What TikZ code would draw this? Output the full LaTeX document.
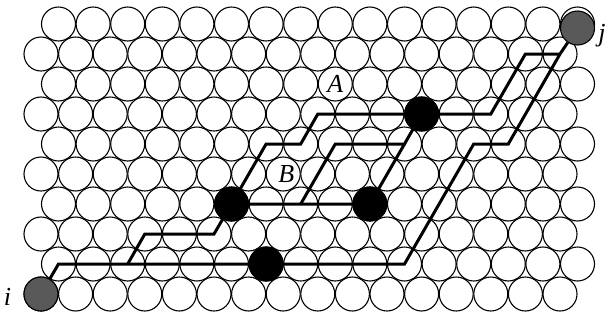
\documentclass[tikz,border=0pt]{standalone}
\usepackage{fontspec}
\setmainfont{Liberation Serif}
\usepackage{tikz}
\usetikzlibrary{positioning}

\begin{document}
\begin{tikzpicture}[x=1pt, y=-1pt]
        \tikzstyle{ball} = [circle, draw, fill=white, minimum size=34pt, inner sep=0pt, line width=1.1pt]
        \tikzstyle{site} = [ball, fill=black!65]
        \tikzstyle{blocked} = [ball, fill=black]
        \tikzstyle{route} = [draw, line width=3pt]
        \tikzstyle{tag} = [font=\fontsize{26}{26}\selectfont\itshape, inner sep=0pt]
        \useasboundingbox (0,0) rectangle (609,322);

        % Packing
        \foreach \r in {1,...,10} {
            \pgfmathsetmacro{\xo}{mod(\r,2)==1 ? 58.5 : 41}
            \foreach \k in {0,...,15} {
                \node [ball] (c-\r-\k) at ({\xo+34.6*\k}, {294-30*(10-\r)}) {};
            }
        }

        % Sites and blocked grains
        \node [site] (i) at (c-10-0) {};
        \node [site, yshift=-4pt] (j) at (c-1-15) {};
        \node [blocked] (b1) at (c-7-5) {};
        \node [blocked] (b2) at (c-7-9) {};
        \node [blocked] (b3) at (c-9-6) {};
        \node [blocked] (b4) at (c-4-11) {};

        % Labels
        \node [tag] (li) at ([xshift=-16pt, yshift=-3pt]i.west) {i};
        \node [tag, anchor=west] (lj) at ([xshift=3pt, yshift=-8pt]j.east) {j};
        \node [tag] (la) at (c-3-8) {A};
        \node [tag, xshift=3pt] (lb) at (c-6-7) {B};

        % Paths
        \path [route] (i) -- (c-9-0.center) -- (c-9-10.center) -- (c-5-12.center) -- (c-5-13.center) -- (c-2-15.center) -- (j);
        \path [route] (c-9-2.center) -- (c-8-3.center) -- (c-8-5.center) -- (b1.center) -- (b2.center);
        \path [route] (b1.center) -- (c-5-6.center) -- (c-5-7.center) -- (c-4-8.center) -- (c-4-13.center) -- (c-2-14.center) -- (c-2-15.center);
        \path [route] (c-7-7.center) -- (c-5-8.center) -- (c-5-10.center) -- (b4.center);
        \path [route] (b2.center) -- (c-5-10.center);
    \end{tikzpicture}
\end{document}
